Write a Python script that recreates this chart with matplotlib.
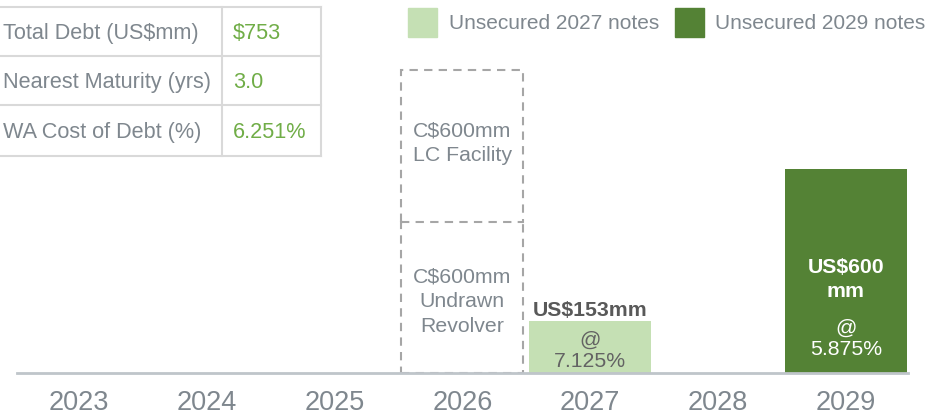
import matplotlib.pyplot as plt
from matplotlib.patches import Patch

plt.rcParams['font.family'] = ['Liberation Sans', 'DejaVu Sans']

# data
years = ['2023', '2024', '2025', '2026', '2027', '2028', '2029']
notes_2027 = [0, 0, 0, 0, 153, 0, 0]
notes_2029 = [0, 0, 0, 0, 0, 0, 600]
facility_year = '2026'
facility_boxes = [445, 445]  # drawn height of the undrawn revolver / LC facility boxes
facility_labels = ['C$600mm\nUndrawn\nRevolver', 'C$600mm\nLC Facility']
rate_2027 = '7.125%'
rate_2029 = '5.875%'

table_labels = ['Total Debt (US$mm)', 'Nearest Maturity (yrs)', 'WA Cost of Debt (%)']
table_values = ['$753', '3.0', '6.251%']

GRAY = '#7f878e'
LIGHT = '#c5e0b4'
DARK = '#548235'
VALGREEN = '#70ad47'
BOXEDGE = '#a6a6a6'

W, H = 937, 415
fig = plt.figure(figsize=(W / 100, H / 100), dpi=100)

# main chart axes: baseline 42px from bottom, year spacing ~127.8px
x0, dx = 79, 127.8
px_per = 204 / 600
ax = fig.add_axes([0, 42 / H, 1, 1 - 42 / H])
ax.set_xlim(-x0 / dx, (W - x0) / dx)
ax.set_ylim(0, (H - 42) / px_per)

xs = list(range(len(years)))
bw = 0.955
ax.bar(xs, notes_2027, width=bw, color=LIGHT)
ax.bar(xs, notes_2029, width=bw, color=DARK)

# dashed facility boxes
fx = years.index(facility_year)
dash = (0, (4, 3))
bottom = 0
for h, lab, off in zip(facility_boxes, facility_labels, [-12, 9]):
    ax.bar(fx, h, bottom=bottom, width=bw, fill=False, edgecolor=BOXEDGE,
           linestyle=dash, linewidth=1.5)
    ax.text(fx, bottom + h / 2 + off, lab, ha='center', va='center', fontsize=15.3,
            color=GRAY, linespacing=1.38)
    bottom += h
# shared edge between the two boxes: keep it dashed
sep = facility_boxes[0]
ax.hlines(sep, fx - bw / 2 + 0.01, fx + bw / 2 - 0.01, color='white', linewidth=3, zorder=3)
ax.hlines(sep, fx - bw / 2, fx + bw / 2, color=BOXEDGE, linestyle=dash, linewidth=1.5, zorder=4)

# bar labels
i27 = notes_2027.index(max(notes_2027))
v27 = notes_2027[i27]
ax.text(i27, v27 + 32, f'US${v27}mm', ha='center', va='center', fontsize=15.3,
        fontweight='bold', color='#595959')
ax.text(i27, v27 * 0.42, f'@\n{rate_2027}', ha='center', va='center', fontsize=15.3,
        color='#636363', linespacing=1.15)

i29 = notes_2029.index(max(notes_2029))
v29 = notes_2029[i29]
ax.text(i29, v29 * 0.458, f'US${v29}\nmm', ha='center', va='center', fontsize=15.3,
        fontweight='bold', color='white', linespacing=1.38)
ax.text(i29, v29 * 0.167, f'@\n{rate_2029}', ha='center', va='center', fontsize=15.3,
        color='white', linespacing=1.15)

# axis
for s in ['top', 'right', 'left']:
    ax.spines[s].set_visible(False)
ax.spines['bottom'].set_color('#bfc5ca')
ax.spines['bottom'].set_linewidth(2)
ax.spines['bottom'].set_bounds(-62 / dx, (908 - x0) / dx)
ax.set_yticks([])
ax.set_xticks(xs)
ax.set_xticklabels(years, fontsize=19.5, color=GRAY)
ax.tick_params(axis='x', length=0, pad=12)

# legend
ax.legend(handles=[Patch(color=LIGHT), Patch(color=DARK)],
          labels=['Unsecured 2027 notes', 'Unsecured 2029 notes'],
          ncol=2, loc='upper left', bbox_to_anchor=(408 / W, 1 - 8 / H),
          bbox_transform=fig.transFigure, frameon=False, fontsize=15,
          handlelength=1.4, handleheight=1.77, handletextpad=0.55,
          columnspacing=0.75, borderpad=0, borderaxespad=0, labelcolor=GRAY)

# summary table (pixel coordinates)
tax = fig.add_axes([0, 0, 1, 1])
tax.set_xlim(0, W)
tax.set_ylim(H, 0)
tax.axis('off')
rows = [7, 56, 105, 156]
line_kw = dict(color='#d9d9d9', linewidth=1.5)
for y in rows:
    tax.plot([0, 321], [y, y], **line_kw)
tax.plot([222, 222], [rows[0], rows[-1]], **line_kw)
tax.plot([321, 321], [rows[0], rows[-1]], **line_kw)
for i, (lab, val) in enumerate(zip(table_labels, table_values)):
    yc = (rows[i] + rows[i + 1]) / 2 + 2
    tax.text(3, yc, lab, ha='left', va='center', fontsize=15.6, color=GRAY)
    tax.text(233, yc, val, ha='left', va='center', fontsize=15.6, color=VALGREEN)

fig.savefig('out.png', dpi=100)
